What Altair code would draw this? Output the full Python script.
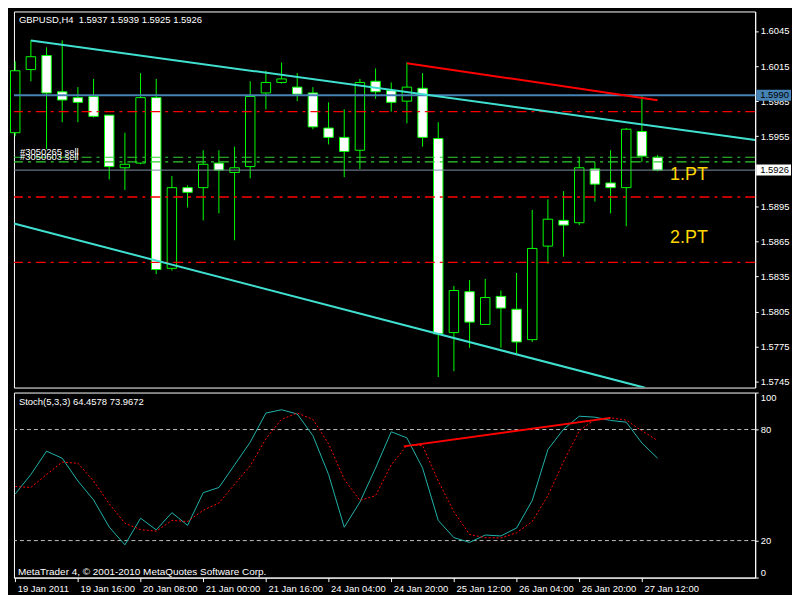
import json
import altair as alt
import pandas as pd

# ---------------- data ----------------
bars = list(range(42))
opens = [1.5958, 1.6012, 1.6024, 1.5993, 1.5988, 1.5989, 1.5973, 1.5928, 1.5932, 1.5988,
         1.5842, 1.5911, 1.5911, 1.5932, 1.5924, 1.5929, 1.5992, 1.6001, 1.5997, 1.5992,
         1.5962, 1.5954, 1.5943, 1.6002, 1.5994, 1.5985, 1.5996, 1.5953, 1.5787, 1.5822,
         1.5794, 1.5818, 1.5807, 1.5781, 1.5861, 1.5883, 1.5881, 1.5927, 1.5915, 1.5911,
         1.5959, 1.5937]
highs = [1.6019, 1.6037, 1.6031, 1.6037, 1.5997, 1.6004, 1.5973, 1.5958, 1.6009, 1.6004,
         1.5921, 1.5913, 1.5943, 1.5943, 1.5946, 1.6002, 1.6011, 1.6018, 1.6009, 1.5997,
         1.5984, 1.5978, 1.6004, 1.6013, 1.6001, 1.6018, 1.6009, 1.5967, 1.5827, 1.5832,
         1.5833, 1.5823, 1.5838, 1.5892, 1.5901, 1.5908, 1.5937, 1.5933, 1.5943, 1.5962,
         1.5990, 1.5939]
lows = [1.5955, 1.6002, 1.5944, 1.5967, 1.5967, 1.5971, 1.5918, 1.5909, 1.5931, 1.5837,
        1.5840, 1.5894, 1.5883, 1.5889, 1.5866, 1.5919, 1.5978, 1.6000, 1.5985, 1.5961,
        1.5948, 1.5920, 1.5927, 1.5987, 1.5976, 1.5966, 1.5946, 1.5749, 1.5754, 1.5774,
        1.5794, 1.5774, 1.5769, 1.5779, 1.5846, 1.5852, 1.5879, 1.5899, 1.5889, 1.5878,
        1.5933, 1.5925]
closes = [1.6011, 1.6023, 1.5992, 1.5986, 1.5984, 1.5972, 1.5929, 1.5931, 1.5988, 1.5841,
          1.5911, 1.5907, 1.5931, 1.5926, 1.5928, 1.5989, 1.6001, 1.6004, 1.5991, 1.5963,
          1.5954, 1.5942, 1.6001, 1.5993, 1.5984, 1.5997, 1.5954, 1.5786, 1.5823, 1.5796,
          1.5817, 1.5808, 1.5779, 1.5859, 1.5884, 1.5879, 1.5928, 1.5914, 1.5911, 1.5961,
          1.5938, 1.5926]

stoch_main = [45.2, 55.7, 68.3, 64.5, 52.2, 42.0, 27.3, 17.7, 32.1, 25.8,
              35.1, 28.2, 45.9, 48.7, 60.9, 73.2, 88.9, 90.7, 88.4, 76.7,
              55.7, 27.2, 40.8, 59.2, 78.8, 75.5, 59.2, 30.9, 21.6, 19.0,
              23.0, 22.5, 26.8, 41.7, 69.2, 80.2, 87.2, 86.7, 84.9, 84.0,
              72.7, 64.5]
stoch_signal = [49.2, 48.7, 55.7, 62.4, 61.8, 52.2, 39.9, 29.4, 25.9, 25.1,
                30.9, 30.3, 36.4, 40.3, 50.4, 60.4, 75.0, 85.5, 88.9, 85.5,
                72.3, 53.1, 41.7, 44.3, 60.9, 71.4, 71.4, 52.2, 35.6, 23.3,
                21.6, 21.4, 24.2, 30.3, 44.3, 62.7, 79.3, 85.5, 86.3, 85.1,
                79.3, 74.1]

time_label_bars = [0, 4, 8, 12, 16, 20, 24, 28, 32, 36, 40]
time_labels = ["19 Jan 2011", "19 Jan 16:00", "20 Jan 08:00", "21 Jan 00:00",
               "21 Jan 16:00", "24 Jan 04:00", "24 Jan 20:00", "25 Jan 12:00",
               "26 Jan 04:00", "26 Jan 20:00", "27 Jan 12:00"]
price_ticks = [1.6045, 1.6015, 1.5985, 1.5955, 1.5895, 1.5865, 1.5835,
               1.5805, 1.5775, 1.5745]
stoch_ticks = [0, 20, 80, 100]
stoch_levels = [20, 80]

blue_level = [1.5990]
red_levels = [1.5976, 1.5903, 1.5847]
order_levels = [1.5937, 1.5933]
order_names = ["#3050265 sell", "#3050603 sell"]
bid_level = [1.5926]

upper_channel_bar = [1, 47.23]
upper_channel_price = [1.60369, 1.59518]
lower_channel_bar = [-0.08, 40.2]
lower_channel_price = [1.58803, 1.57398]
red_trend_bar = [25, 41]
red_trend_price = [1.60175, 1.59858]
stoch_trend_bar = [24.8, 38.0]
stoch_trend_val = [70.9, 86.3]

pt_names = ["1.PT", "2.PT"]
pt_bar = [41.8, 41.8]
pt_price = [1.5922, 1.5868]

title_main = "GBPUSD,H4\u00a0\u00a01.5937 1.5939 1.5925 1.5926"
title_stoch = "Stoch(5,3,3) 64.4578 73.9672"
copyright_txt = "MetaTrader 4, \u00a9 2001-2010 MetaQuotes Software Corp."

# ---------------- layout ----------------
W, H1, H2 = 745, 378, 186
FONT = "Liberation Sans"
FS = 9.5
X_DOMAIN = [-0.08, 47.23]
P_DOMAIN = [1.5740, 1.60617]
GREEN = "#00FF00"
CYAN = "#40E0D0"

xs = alt.Scale(domain=X_DOMAIN, nice=False, zero=False, padding=0)
ps = alt.Scale(domain=P_DOMAIN, nice=False, zero=False, padding=0)
ss = alt.Scale(domain=[0, 100], nice=False, zero=False, padding=0)

price_axis = alt.Axis(orient="right", values=price_ticks, format=".4f",
                      labelColor="white", labelFont=FONT, labelFontSize=FS,
                      tickColor="white", tickSize=3, labelPadding=2,
                      domainColor="white", grid=False, title=None)
time_axis = alt.Axis(orient="bottom", values=time_label_bars,
                     labelExpr=json.dumps(time_labels).replace('"', "'") + "[floor(datum.value/4+0.5)]",
                     labelAlign="left", labelBaseline="top", labelOffset=2,
                     labelPadding=2, labelColor="white", labelFont=FONT,
                     labelFontSize=FS, labelOverlap=False, labelBound=False,
                     tickColor="white", tickSize=4, domainColor="white",
                     grid=False, title=None)
stoch_axis = alt.Axis(orient="right", values=stoch_ticks, format="d", labelFlush=True,
                      labelColor="white", labelFont=FONT, labelFontSize=FS,
                      tickColor="white", tickSize=3, labelPadding=2,
                      domainColor="white", grid=False, title=None)


def XM(field):
    return alt.X(field, scale=xs, axis=None, title=None)


def YM(field):
    return alt.Y(field, scale=ps, axis=price_axis, title=None)


def XS(field):
    return alt.X(field, scale=xs, axis=time_axis, title=None)


def YS(field):
    return alt.Y(field, scale=ss, axis=stoch_axis, title=None)


candles = pd.DataFrame(dict(k=bars, o=opens, h=highs, l=lows, c=closes))

wicks = alt.Chart(candles).mark_rule(color=GREEN, strokeWidth=1).encode(
    x=XM("k:Q"), y=YM("l:Q"), y2="h:Q",
)
bodies = alt.Chart(candles).mark_bar(width=9.5, stroke=GREEN, strokeWidth=1).encode(
    x=XM("k:Q"), y=YM("o:Q"), y2="c:Q",
    fill=alt.condition("datum.c < datum.o", alt.value("white"), alt.value("black")),
)


def hrule(values, **kw):
    df = pd.DataFrame({"p": values})
    return alt.Chart(df).mark_rule(**kw).encode(y=YM("p:Q"))


bid_rule = hrule(bid_level, color="#8090A0", strokeWidth=1)
red_rules = hrule(red_levels, color="#FF0000", strokeWidth=1.3, strokeDash=[10, 5, 3, 5])
green_rules = hrule(order_levels, color="#32CD32", strokeWidth=1.2, strokeDash=[10, 5, 3, 5])
blue_rule = hrule(blue_level, color="#4682B4", strokeWidth=2)


def seg(bx, py, color, width, xenc, yenc):
    df = pd.DataFrame({"k": bx, "v": py})
    return alt.Chart(df).mark_line(color=color, strokeWidth=width, clip=True).encode(
        x=xenc("k:Q"), y=yenc("v:Q"),
    )


upper = seg(upper_channel_bar, upper_channel_price, CYAN, 2, XM, YM)
lower = seg(lower_channel_bar, lower_channel_price, CYAN, 2, XM, YM)
red_tr = seg(red_trend_bar, red_trend_price, "red", 2, XM, YM)

orders_df = pd.DataFrame({"p": order_levels, "t": order_names})
order_txt = alt.Chart(orders_df).mark_text(
    align="left", baseline="alphabetic", dy=-2, color="white", font=FONT, fontSize=9.5
).encode(x=alt.value(6), y=YM("p:Q"), text="t:N")

pt_df = pd.DataFrame({"k": pt_bar, "p": pt_price, "t": pt_names})
pt_txt = alt.Chart(pt_df).mark_text(
    align="left", baseline="middle", color="#FFD700", font=FONT, fontSize=18
).encode(x=XM("k:Q"), y=YM("p:Q"), text="t:N")

title_txt = alt.Chart(pd.DataFrame({"t": [title_main]})).mark_text(
    align="left", baseline="middle", color="white", font=FONT, fontSize=FS
).encode(x=alt.value(5), y=alt.value(9), text="t:N")

box_df = pd.DataFrame({"p": blue_level + bid_level, "bg": ["#4682B4", "white"]})
box_df["lo"] = box_df["p"] - 0.00047
box_df["hi"] = box_df["p"] + 0.00047
box_df["lab"] = box_df["p"].map(lambda v: f"{v:.4f}")
boxes = alt.Chart(box_df).mark_rect().encode(
    x=alt.value(W + 1), x2=alt.value(W + 36),
    y=YM("lo:Q"), y2="hi:Q",
    fill=alt.Fill("bg:N", scale=None),
)
box_txt = alt.Chart(box_df).mark_text(
    align="left", baseline="middle", color="black", font=FONT, fontSize=FS
).encode(x=alt.value(W + 5), y=YM("p:Q"), text="lab:N")

main = alt.layer(
    wicks, bodies, bid_rule, red_rules, green_rules, blue_rule,
    upper, lower, red_tr, order_txt, pt_txt, title_txt, boxes, box_txt,
).properties(width=W, height=H1)

# ---------------- stochastic ----------------
st_df = pd.DataFrame({"k": bars, "K": stoch_main, "D": stoch_signal})
k_line = alt.Chart(st_df).mark_line(color="#20B2AA", strokeWidth=1).encode(
    x=XS("k:Q"), y=YS("K:Q"),
)
d_line = alt.Chart(st_df).mark_line(color="red", strokeWidth=1, strokeDash=[2, 2]).encode(
    x=XS("k:Q"), y=YS("D:Q"),
)
lv = alt.Chart(pd.DataFrame({"v": stoch_levels})).mark_rule(
    color="#C0C0C0", strokeWidth=1, strokeDash=[4, 3]
).encode(y=YS("v:Q"))
st_tr = seg(stoch_trend_bar, stoch_trend_val, "red", 2, XS, YS)

st_title = alt.Chart(pd.DataFrame({"t": [title_stoch]})).mark_text(
    align="left", baseline="middle", color="white", font=FONT, fontSize=FS
).encode(x=alt.value(5), y=alt.value(9.5), text="t:N")
copy_txt = alt.Chart(pd.DataFrame({"t": [copyright_txt]})).mark_text(
    align="left", baseline="middle", color="white", font=FONT, fontSize=10
).encode(x=alt.value(4), y=alt.value(H2 - 6), text="t:N")

stoch = alt.layer(lv, k_line, d_line, st_tr, st_title, copy_txt).properties(width=W, height=H2)

chart = alt.vconcat(main, stoch, spacing=3).properties(
    padding={"left": 1, "top": 1, "right": 0, "bottom": 0}
).configure(background="black").configure_view(stroke="white", strokeWidth=1, fill="black")

chart.save("out.html", embed_options={"renderer": "svg", "actions": False})
